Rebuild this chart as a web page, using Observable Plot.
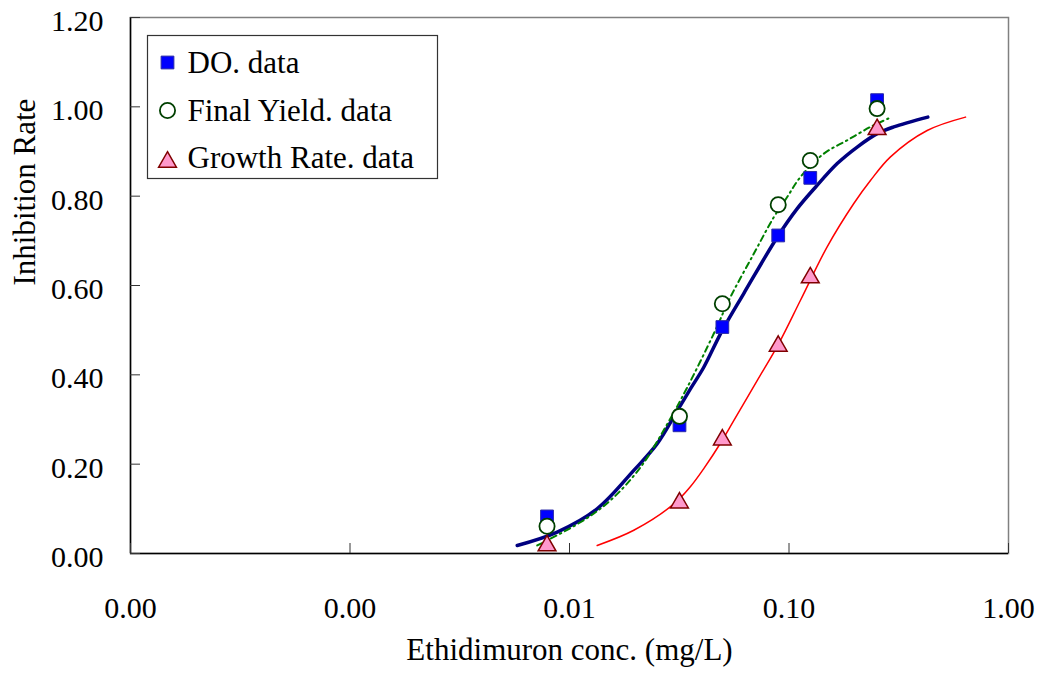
<!DOCTYPE html>
<html>
<head>
<meta charset="utf-8">
<script src="https://cdn.jsdelivr.net/npm/d3@7"></script>
<script src="https://cdn.jsdelivr.net/npm/@observablehq/plot@0.6"></script>
<style>
  html, body { margin: 0; padding: 0; background: #fff; }
  #chart { width: 1037px; height: 676px; }
  #chart svg, #chart svg text { font-family: "Liberation Serif", "Times New Roman", serif !important; }
</style>
</head>
<body>
<div id="chart"></div>
<script>
// Measured data (concentration in mg/L, inhibition rate)
const conc = [0.0079, 0.0317, 0.0497, 0.0893, 0.125, 0.252];
const doData = [0.083, 0.287, 0.507, 0.712, 0.841, 1.015];
const fyData = [0.061, 0.307, 0.559, 0.781, 0.880, 0.996];
const grData = [0.023, 0.119, 0.260, 0.470, 0.623, 0.955];

// Fitted curves, points
const doFitX = [0.00578, 0.00879, 0.01336, 0.01963, 0.0251, 0.0310, 0.0356, 0.0409, 0.0496, 0.0622, 0.0884, 0.109, 0.132, 0.1658, 0.2045, 0.2522, 0.300, 0.429];
const doFitY = [0.018, 0.048, 0.100, 0.186, 0.246, 0.320, 0.369, 0.417, 0.499, 0.582, 0.708, 0.772, 0.820, 0.873, 0.910, 0.940, 0.955, 0.977];
const fyFitX = [0.00713, 0.01122, 0.01537, 0.02106, 0.0279, 0.0344, 0.0454, 0.0541, 0.0691, 0.0853, 0.0981, 0.1128, 0.144, 0.184, 0.235, 0.290];
const fyFitY = [0.018, 0.070, 0.119, 0.193, 0.290, 0.372, 0.492, 0.574, 0.671, 0.753, 0.798, 0.843, 0.895, 0.925, 0.955, 0.976];
const grFitX = [0.01337, 0.01963, 0.0299, 0.0356, 0.0409, 0.0496, 0.0561, 0.0716, 0.0898, 0.1128, 0.149, 0.197, 0.235, 0.290, 0.426, 0.637];
const grFitY = [0.018, 0.052, 0.111, 0.150, 0.190, 0.253, 0.298, 0.387, 0.470, 0.567, 0.686, 0.783, 0.835, 0.888, 0.947, 0.977];

const xTicks = [0.0001, 0.001, 0.01, 0.1, 1];
const yTicks = [0, 0.2, 0.4, 0.6, 0.8, 1.0, 1.2];
const legendLabels = ["DO. data", "Final Yield. data", "Growth Rate. data"];
const xTitle = "Ethidimuron conc. (mg/L)";
const yTitle = "Inhibition Rate";

const pts = (xs, ys) => xs.map((x, i) => ({x, y: ys[i]}));
const doPts = pts(conc, doData), fyPts = pts(conc, fyData), grPts = pts(conc, grData);
const doFit = pts(doFitX, doFitY), fyFit = pts(fyFitX, fyFitY), grFit = pts(grFitX, grFitY);

const fmt = d3.format(".2f");
const serif = "Liberation Serif, Times New Roman, serif";

const sqStyle = {symbol: "square", r: 7.2, fill: "#0000FF", stroke: "#2a2aa8", strokeWidth: 1};
const ciStyle = {symbol: "circle", r: 7.6, fill: "#FFFFFF", stroke: "#004000", strokeWidth: 1.8};
const trStyle = {symbol: "triangle", r: 6.6, fill: "#FF99CC", stroke: "#800000", strokeWidth: 1.5, dy: 2.5};

const chart = Plot.plot({
  width: 1037,
  height: 676,
  marginLeft: 130,
  marginRight: 29,
  marginTop: 17,
  marginBottom: 123,
  style: {fontFamily: serif, fontSize: "30px", color: "#000", background: "#fff", overflow: "visible"},
  x: {type: "log", domain: [0.0001, 1]},
  y: {domain: [0, 1.2]},
  marks: [
    Plot.frame({stroke: "#808080", strokeWidth: 1.5}),
    Plot.ruleX([0.0001], {stroke: "#000", strokeWidth: 1.5}),
    Plot.ruleY([0], {stroke: "#000", strokeWidth: 1.5}),
    // inward ticks
    Plot.axisX(xTicks, {tickSize: -10, text: null, label: null, stroke: "#333"}),
    Plot.axisY(yTicks, {tickSize: -10, text: null, label: null, stroke: "#333"}),
    // tick labels
    Plot.axisX(xTicks, {tickSize: 0, tickPadding: 43, tickFormat: fmt, label: null, fontSize: 30, fontFamily: serif, fill: "#000"}),
    Plot.axisY(yTicks, {tickSize: 0, tickPadding: 27, tickFormat: fmt, label: null, fontSize: 30, fontFamily: serif, fill: "#000", dy: 4}),
    // axis titles
    Plot.text([xTitle], {frameAnchor: "bottom", dy: 106, fontSize: 31, fontFamily: serif, fill: "#000", text: d => d}),
    Plot.text([yTitle], {frameAnchor: "left", dx: -105, rotate: -90, fontSize: 31, fontFamily: serif, fill: "#000", text: d => d}),
    // fitted curves
    Plot.line(doFit, {x: "x", y: "y", stroke: "#000080", strokeWidth: 3.5, curve: "catmull-rom"}),
    Plot.line(fyFit, {x: "x", y: "y", stroke: "#008000", strokeWidth: 2, strokeDasharray: "6,4,1.5,4", curve: "catmull-rom"}),
    Plot.line(grFit, {x: "x", y: "y", stroke: "#FF0000", strokeWidth: 1.5, curve: "catmull-rom"}),
    // data markers
    Plot.dot(doPts, {x: "x", y: "y", ...sqStyle}),
    Plot.dot(fyPts, {x: "x", y: "y", ...ciStyle}),
    Plot.dot(grPts, {x: "x", y: "y", ...trStyle}),
    // legend
    Plot.frame({fill: "#fff", stroke: "#333", strokeWidth: 1.2, insetLeft: 17, insetTop: 18, insetRight: 571, insetBottom: 375}),
    Plot.dot([legendLabels[0]], {frameAnchor: "top-left", dx: 37, dy: 45, ...sqStyle}),
    Plot.dot([legendLabels[1]], {frameAnchor: "top-left", dx: 37, dy: 93, ...ciStyle}),
    Plot.dot([legendLabels[2]], {frameAnchor: "top-left", ...trStyle, dx: 37, dy: 142 + 2.5}),
    Plot.text([legendLabels.join("\n")], {frameAnchor: "top-left", dx: 57, dy: 22, textAnchor: "start", lineAnchor: "top", lineHeight: 1.532, fontSize: 31, fontFamily: serif, fill: "#000", text: d => d})
  ]
});
document.getElementById("chart").appendChild(chart);
</script>
</body>
</html>
